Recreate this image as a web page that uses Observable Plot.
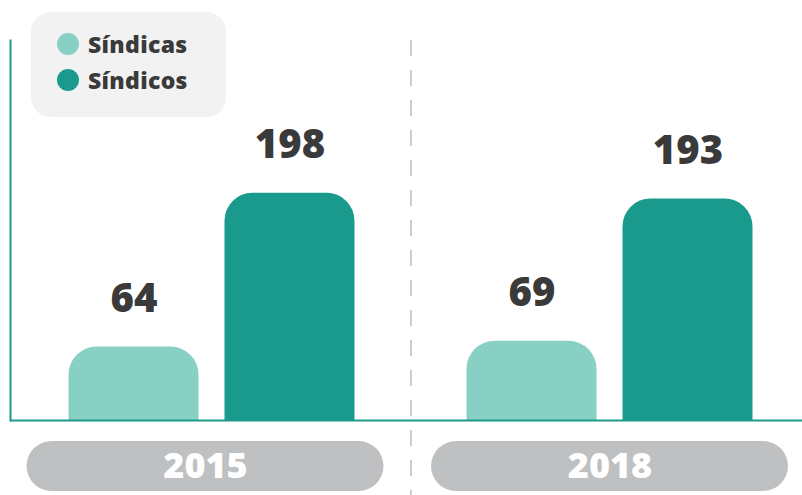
<!DOCTYPE html>
<html>
<head>
<meta charset="utf-8">
<script src="https://cdn.jsdelivr.net/npm/d3@7"></script>
<script src="https://cdn.jsdelivr.net/npm/@observablehq/plot@0.6"></script>
<style>
  html, body { margin: 0; padding: 0; background: #fff; }
  #wrap { position: relative; width: 802px; height: 495px; font-family: "Open Sans", sans-serif; }
  #legend { position: absolute; left: 31px; top: 12px; width: 195px; height: 105px; background: #f2f2f2; border-radius: 20px; box-sizing: border-box; padding: 14px 0 0 26px; }
  .item { display: flex; align-items: center; height: 36px; font-size: 23px; font-weight: 800; color: #3a3a3a; letter-spacing: 0.3px; }
  .sw { width: 22px; height: 22px; border-radius: 50%; margin-right: 9px; flex: none; }
  svg { display: block; }
</style>
</head>
<body>
<div id="wrap"></div>
<script>
const years = ["2015", "2018"];
const seriesNames = ["Síndicas", "Síndicos"];
const sindicas = [64, 69];
const sindicos = [198, 193];

const colors = ["#88cfc4", "#1a9a8c"];
const data = years.map((y, i) => ({year: y, sindicas: sindicas[i], sindicos: sindicos[i]}));
const font = "'Open Sans', sans-serif";

const pill = (year, shift) => [
  Plot.cell([year], {x: d => d, fill: "#bfc0c2", rx: 25, insetTop: 401, insetBottom: -71, insetLeft: -shift, insetRight: shift}),
  Plot.text([year], {x: d => d, text: d => d, frameAnchor: "bottom", dx: -shift, dy: 57, lineAnchor: "bottom", fill: "#ffffff", fontSize: 36, fontWeight: 800})
];

const chart = Plot.plot({
  width: 802,
  height: 495,
  marginTop: 40,
  marginBottom: 75,
  marginLeft: 10,
  marginRight: 0,
  style: {fontFamily: font, background: "transparent"},
  x: {type: "band", domain: years, paddingInner: 0.10302, paddingOuter: 0.04648, align: 0.635, axis: null},
  y: {domain: [0, 331], axis: null},
  marks: [
    pill(years[0], 6.5),
    pill(years[1], 0),
    Plot.ruleX([years[1]], {dx: -199, stroke: "#cccccc", strokeWidth: 2, strokeDasharray: "16,14", insetBottom: -75}),
    Plot.barY(data, {x: "year", y: "sindicas", fill: colors[0], insetLeft: 35.5, insetRight: 191.5, insetBottom: -30, rx: 28, clip: true}),
    Plot.barY(data, {x: "year", y: "sindicos", fill: colors[1], insetLeft: 191.5, insetRight: 35.5, insetBottom: -30, rx: 28, clip: true}),
    Plot.text(data, {x: "year", y: "sindicas", text: "sindicas", dx: -78, dy: -35, lineAnchor: "bottom", fill: "#3a3a3a", fontSize: 40, fontWeight: 800}),
    Plot.text(data, {x: "year", y: "sindicos", text: "sindicos", dx: 78, dy: -35, lineAnchor: "bottom", fill: "#3a3a3a", fontSize: 40, fontWeight: 800}),
    Plot.ruleY([0], {stroke: "#1a9a8c", strokeWidth: 2}),
    Plot.frame({anchor: "left", stroke: "#1a9a8c", strokeWidth: 2})
  ]
});

const wrap = document.getElementById("wrap");
wrap.appendChild(chart);
const legend = document.createElement("div");
legend.id = "legend";
seriesNames.forEach((name, i) => {
  const item = document.createElement("div");
  item.className = "item";
  const sw = document.createElement("span");
  sw.className = "sw";
  sw.style.background = colors[i];
  const label = document.createElement("span");
  label.textContent = name;
  item.appendChild(sw);
  item.appendChild(label);
  legend.appendChild(item);
});
wrap.appendChild(legend);
</script>
</body>
</html>
